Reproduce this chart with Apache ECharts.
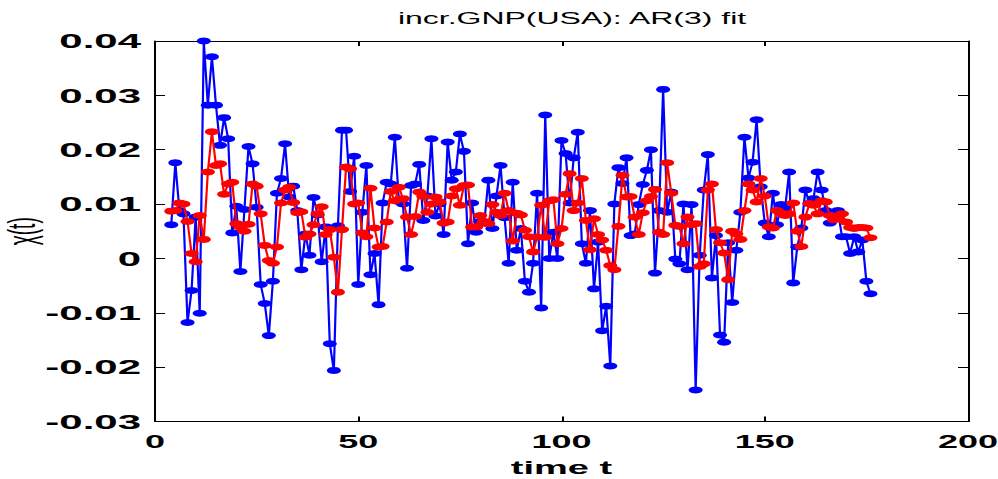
<!DOCTYPE html>
<html><head><meta charset="utf-8">
<script src="https://cdn.jsdelivr.net/npm/echarts/dist/echarts.min.js"></script>
<style>
html,body{margin:0;padding:0;background:#fff;overflow:hidden}
#wrap{width:998px;height:479px;overflow:hidden;position:relative}
#chart{width:499px;height:479px;transform:scaleX(2);transform-origin:0 0}
</style>
</head><body><div id="wrap"><div id="chart"></div></div>
<script>
// time index of the first plotted value
const tStart = 4;
// observed increments x(t), t = 4..176
const observed = [
 0.0062,0.0176,0.0088,0.0082,-0.0118,-0.0059,0.0076,-0.0101,
 0.0400,0.0282,0.0371,0.0282,0.0208,0.0259,0.0220,0.0047,0.0096,-0.0024,
 0.0090,0.0206,0.0174,0.0094,-0.0048,-0.0083,-0.0142,-0.0042,0.0120,0.0147,
 0.0211,0.0113,0.0133,0.0088,-0.0021,0.0045,0.0006,0.0112,0.0080,-0.0006,
 0.0058,-0.0157,-0.0206,0.0060,0.0236,0.0236,0.0123,0.0188,-0.0048,0.0085,
 0.0171,-0.0030,0.0009,-0.0085,0.0102,0.0140,0.0137,0.0223,0.0105,0.0100,
 -0.0018,0.0134,0.0137,0.0173,0.0070,0.0115,0.0220,0.0078,0.0100,0.0044,
 0.0214,0.0144,0.0159,0.0229,0.0197,0.0027,0.0102,0.0048,0.0068,0.0065,
 0.0144,0.0055,0.0115,0.0171,0.0075,-0.0009,0.0140,0.0015,0.0055,-0.0042,
 -0.0062,-0.0009,0.0120,-0.0091,0.0264,0.0000,0.0048,0.0000,0.0217,0.0193,
 0.0102,0.0185,0.0232,0.0027,-0.0009,0.0088,-0.0056,0.0030,-0.0133,-0.0088,
 -0.0198,0.0100,0.0167,0.0138,0.0185,0.0042,0.0045,0.0099,0.0136,0.0162,
 0.0200,-0.0027,0.0088,0.0311,0.0085,0.0122,-0.0001,-0.0010,0.0100,-0.0021,
 0.0099,-0.0242,0.0006,0.0126,0.0191,-0.0036,0.0042,-0.0141,-0.0154,0.0029,
 -0.0081,0.0015,0.0085,0.0223,0.0148,0.0177,0.0255,
 0.0132,0.0065,0.0040,0.0120,0.0062,0.0099,0.0092,0.0159,-0.0045,0.0021,
 0.0056,0.0126,0.0101,0.0110,0.0159,0.0126,0.0088,0.0065,0.0075,0.0088,
 0.0040,0.0040,0.0009,0.0040,0.0012,0.0034,-0.0042,-0.0065
];
// AR(3) fitted values, t = 4..176
const fitted = [
 0.0087,0.0088,0.0102,0.0100,0.0068,0.0009,-0.0006,0.0079,
 0.0035,0.0159,0.0233,0.0171,0.0174,0.0118,0.0137,0.0140,0.0064,0.0058,
 0.0050,0.0063,0.0137,0.0133,0.0082,0.0024,-0.0004,-0.0009,0.0021,0.0102,
 0.0126,0.0131,0.0103,0.0084,0.0086,0.0039,0.0045,0.0062,0.0082,0.0095,
 0.0044,0.0053,0.0002,-0.0062,0.0053,0.0168,0.0165,0.0100,0.0102,0.0047,
 0.0040,0.0129,0.0056,0.0021,0.0022,0.0067,0.0123,0.0106,0.0131,0.0110,
 0.0076,0.0044,0.0077,0.0122,0.0114,0.0085,0.0100,0.0113,0.0104,0.0065,
 0.0067,0.0115,0.0128,0.0098,0.0134,0.0135,0.0058,0.0058,0.0079,0.0068,
 0.0064,0.0099,0.0085,0.0079,0.0120,0.0088,0.0032,0.0083,0.0080,0.0052,
 0.0040,0.0012,0.0039,0.0098,0.0039,0.0106,0.0108,0.0027,0.0055,0.0118,
 0.0156,0.0088,0.0102,0.0147,0.0070,0.0016,0.0073,0.0044,0.0034,0.0015,
 -0.0013,-0.0021,0.0059,0.0153,0.0113,0.0114,0.0076,0.0044,0.0084,0.0106,
 0.0114,0.0127,0.0048,0.0044,0.0176,0.0120,0.0061,0.0059,0.0027,0.0076,
 0.0062,0.0064,-0.0015,-0.0010,0.0126,0.0137,0.0053,0.0029,0.0010,-0.0039,
 0.0050,0.0045,0.0035,0.0088,0.0137,0.0126,0.0104,
 0.0147,0.0115,0.0058,0.0056,0.0088,0.0083,0.0079,0.0082,0.0102,0.0050,
 0.0022,0.0076,0.0101,0.0098,0.0082,0.0106,0.0104,0.0079,0.0071,0.0074,
 0.0082,0.0067,0.0057,0.0055,0.0057,0.0057,0.0056,0.0038
];
const xRange = [0, 200];
const xStep = 50;
const yRange = [-0.03, 0.04];
const yStep = 0.01;
const titleText = 'incr.GNP(USA): AR(3) fit';
const xName = 'time t';
const yName = 'χ(t)';

const FONT = "'Liberation Sans', Arial, sans-serif";
const toPairs = arr => arr.map((v, i) => [tStart + i, v]);
const fmtY = v => String(Math.round(v * 100) / 100);

const chart = echarts.init(document.getElementById('chart'), null, {renderer: 'svg'});
const axisLineS = {show: true, onZero: false, lineStyle: {color: '#000', width: 1}};
const tickS = {show: true, inside: true, length: 5, lineStyle: {color: '#000', width: 1}};
const labS = {color: '#000', fontFamily: FONT, fontWeight: 'bold'};

chart.setOption({
  animation: false,
  backgroundColor: '#fff',
  title: {
    text: titleText, left: 281, top: 5, textAlign: 'center',
    textStyle: {fontFamily: FONT, fontSize: 16, fontWeight: 'normal', color: '#000'}
  },
  grid: {left: 77.5, right: 15, top: 41, bottom: 57.5, containLabel: false, outerBoundsMode: 'none'},
  xAxis: [
    {type: 'value', min: xRange[0], max: xRange[1], interval: xStep, position: 'bottom',
     axisLine: axisLineS, axisTick: tickS, splitLine: {show: false},
     axisLabel: Object.assign({fontSize: 18, margin: 11}, labS),
     name: xName, nameLocation: 'middle', nameGap: 36, nameMoveOverlap: false,
     nameTextStyle: {color: '#000', fontFamily: FONT, fontWeight: 'bold', fontSize: 19}},
    {type: 'value', min: xRange[0], max: xRange[1], interval: xStep, position: 'top',
     axisLine: axisLineS, axisTick: tickS, splitLine: {show: false}, axisLabel: {show: false}}
  ],
  yAxis: [
    {type: 'value', min: yRange[0], max: yRange[1], interval: yStep, position: 'left',
     axisLine: axisLineS, axisTick: tickS, splitLine: {show: false},
     axisLabel: Object.assign({fontSize: 21, margin: 7, formatter: fmtY}, labS),
     name: yName, nameLocation: 'middle', nameGap: 57, nameRotate: 90, nameMoveOverlap: false,
     nameTextStyle: {color: '#000', fontFamily: FONT, fontWeight: 'normal', fontSize: 19}},
    {type: 'value', min: yRange[0], max: yRange[1], interval: yStep, position: 'right',
     axisLine: axisLineS, axisTick: tickS, splitLine: {show: false}, axisLabel: {show: false}}
  ],
  series: [
    {type: 'line', name: 'observed', data: toPairs(observed), xAxisIndex: 0, yAxisIndex: 0,
     symbol: 'circle', symbolSize: 7, showAllSymbol: true, z: 2,
     itemStyle: {color: '#0000ff'}, lineStyle: {color: '#0000ff', width: 1.1}},
    {type: 'line', name: 'fitted', data: toPairs(fitted), xAxisIndex: 0, yAxisIndex: 0,
     symbol: 'circle', symbolSize: 7, showAllSymbol: true, z: 3,
     itemStyle: {color: '#ff0000'}, lineStyle: {color: '#ff0000', width: 1.1}}
  ]
});
</script>
</body></html>
